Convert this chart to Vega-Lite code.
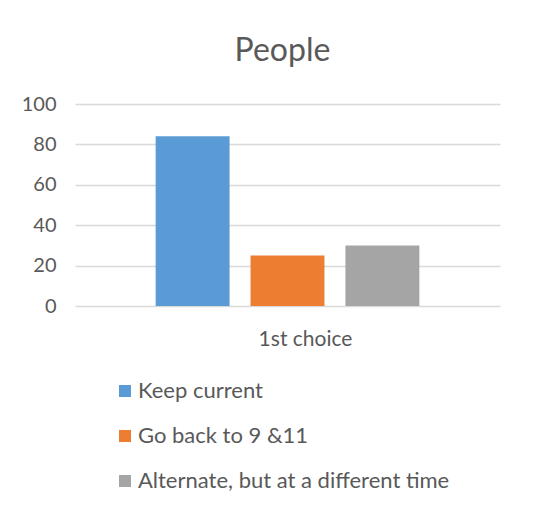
{
  "$schema": "https://vega.github.io/schema/vega-lite/v6.json",
  "width": 425,
  "height": 202,
  "autosize": {"type": "none"},
  "padding": {"left": 75, "top": 104, "right": 55, "bottom": 211},
  "background": "white",
  "title": {"text": "People", "fontSize": 32, "font": "Lato", "fontWeight": "normal", "color": "#595959", "anchor": "middle", "offset": 26, "dx": -5},
  "data": {"values": [
    {"choice": "1st choice", "option": "Keep current", "people": 84},
    {"choice": "1st choice", "option": "Go back to 9 &11", "people": 25},
    {"choice": "1st choice", "option": "Alternate, but at a different time", "people": 30}
  ]},
  "mark": {"type": "bar"},
  "encoding": {
    "x": {"field": "choice", "type": "nominal", "scale": {"paddingInner": 0, "paddingOuter": 0},
      "axis": {"title": null, "labelAngle": 0, "domain": false, "ticks": false, "labelFontSize": 21, "labelColor": "#595959", "labelFont": "Lato", "labelPadding": 22, "labelOffset": 18}},
    "xOffset": {"field": "option", "type": "nominal", "sort": ["Keep current", "Go back to 9 &11", "Alternate, but at a different time"], "scale": {"paddingInner": 0.221, "paddingOuter": 0.85}},
    "y": {"field": "people", "type": "quantitative", "scale": {"domain": [0, 100]},
      "axis": {"title": null, "values": [0, 20, 40, 60, 80, 100], "domain": false, "ticks": false, "labelPadding": 19, "labelFontSize": 20, "labelColor": "#595959", "labelFont": "Lato", "gridColor": "#d9d9d9", "gridWidth": 1.3}},
    "color": {"field": "option", "type": "nominal", "sort": ["Keep current", "Go back to 9 &11", "Alternate, but at a different time"],
      "scale": {"domain": ["Keep current", "Go back to 9 &11", "Alternate, but at a different time"], "range": ["#5B9BD5", "#ED7D31", "#A5A5A5"]},
      "legend": {"title": null, "orient": "none", "legendX": 39, "legendY": 276, "direction": "vertical", "symbolType": "square", "symbolSize": 144, "labelFontSize": 22, "labelFont": "Lato", "labelColor": "#595959", "rowPadding": 23, "symbolStrokeWidth": 0, "labelOffset": 2, "labelLimit": 0}}
  },
  "config": {"view": {"stroke": null}}
}
